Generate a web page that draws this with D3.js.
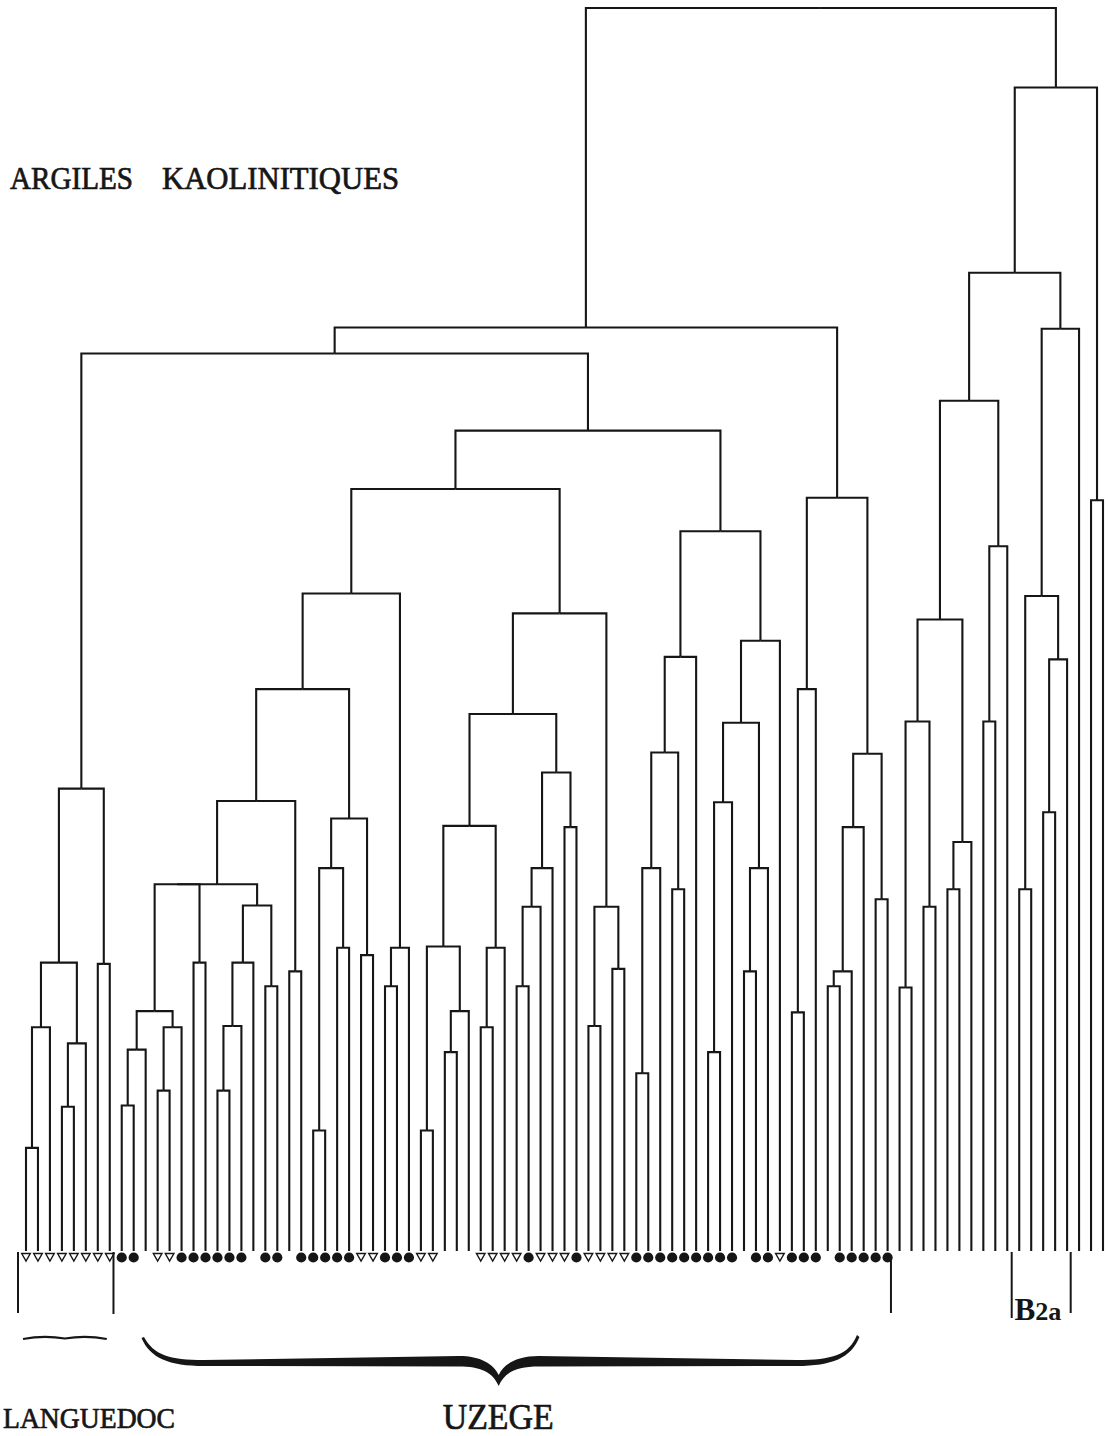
<!DOCTYPE html>
<html>
<head>
<meta charset="utf-8">
<script src="https://cdn.jsdelivr.net/npm/d3@7"></script>
<style>
  html, body { margin: 0; padding: 0; background: #fff; overflow: hidden; }
  svg { display: block; }
</style>
</head>
<body>
<script>
// leaf symbols, left to right: t = open triangle, c = filled dot, - = none
const leafMarkers = (
  "tttttttt" + "cc-tt" + "cccccc-" + "cc-" + "ccccctt" + "ccctt---" +
  "ttttc" + "tttc" + "tttt" + "ccccccccc-" + "cct" + "ccc-" + "ccccc" +
  "------------------"
).split("")

// merges: [id, left child, right child, level]  (numbers = leaves 1..91)
const merges = [
  ["a", 1, 2, 8.3], ["b", "a", 3, 18.0], ["c", 4, 5, 11.6], ["d", "c", 6, 16.7],
  ["e", "b", "d", 23.2], ["f", 7, 8, 23.1], ["g", "e", "f", 37.2],
  ["p1", 9, 10, 11.7], ["p2", "p1", 11, 16.2], ["p3", 12, 13, 12.9], ["p4", "p3", 14, 18.0],
  ["p5", "p2", "p4", 19.3], ["p6", 15, 16, 23.2], ["p7", "p5", "p6", 29.5],
  ["q1", 17, 18, 12.9], ["q2", "q1", 19, 18.1], ["q3", "q2", 20, 23.2], ["q4", 21, 22, 21.3],
  ["q5", "q3", "q4", 27.8], ["p8", "p7", "q5", 29.5],
  ["r1", 23, 24, 22.5], ["r2", "p8", "r1", 36.2],
  ["s1", 25, 26, 9.7], ["s2", 27, 28, 24.4], ["s3", "s1", "s2", 30.8], ["s4", 29, 30, 23.8],
  ["s5", "s3", "s4", 34.8], ["s6", "r2", "s5", 45.2],
  ["t1", 31, 32, 21.3], ["t2", "t1", 33, 24.4], ["t3", "s6", "t2", 52.9],
  ["u1", 34, 35, 9.7], ["u2", 36, 37, 16.0], ["u3", "u2", 38, 19.3], ["u4", "u1", "u3", 24.5],
  ["u5", 39, 40, 18.0], ["u6", "u5", 41, 24.4], ["u7", "u4", "u6", 34.2],
  ["v1", 42, 43, 21.3], ["v2", "v1", 44, 27.7], ["v3", "v2", 45, 30.8], ["v4", 46, 47, 34.1],
  ["v5", "v3", "v4", 38.5], ["v6", "u7", "v5", 43.2],
  ["w1", 48, 49, 18.1], ["w2", 50, 51, 22.7], ["w3", "w1", "w2", 27.7],
  ["w4", "v6", "w3", 51.3], ["w5", "t3", "w4", 61.3],
  ["x1", 52, 53, 14.3], ["x2", "x1", 54, 30.8], ["x3", 55, 56, 29.1], ["x4", "x2", "x3", 40.1],
  ["x5", "x4", 57, 47.8],
  ["y1", 58, 59, 16.0], ["y2", "y1", 60, 36.1], ["y3", 61, 62, 22.5], ["y4", "y3", 63, 30.8],
  ["y5", "y2", "y4", 42.5], ["y6", "y5", 64, 49.1], ["y7", "x5", "y6", 57.9],
  ["y8", "w5", "y7", 66.0], ["h1", "g", "y8", 72.2],
  ["z1", 65, 66, 19.2], ["z2", "z1", 67, 45.2], ["z3", 68, 69, 21.3], ["z4", "z3", 70, 22.5],
  ["z5", "z4", 71, 34.1], ["z6", 72, 73, 28.3], ["z7", "z5", "z6", 40.0], ["z8", "z2", "z7", 60.6],
  ["h2", "h1", "z8", 74.3],
  ["k1", 74, 75, 21.2], ["k2", 76, 77, 27.7], ["k3", "k1", "k2", 42.6], ["k4", 78, 79, 29.1],
  ["k5", "k4", 80, 32.9], ["k6", "k3", "k5", 50.8], ["k7", 81, 82, 42.6], ["k8", "k7", 83, 56.7],
  ["k9", "k6", "k8", 68.4],
  ["m1", 84, 85, 29.1], ["m2", 86, 87, 35.3], ["m3", "m2", 88, 47.6], ["m4", "m1", "m3", 52.7],
  ["m5", "m4", 89, 74.2], ["m6", "k9", "m5", 78.7], ["m7", 90, 91, 60.4], ["m8", "m6", "m7", 93.6],
  ["root", "h2", "m8", 100]
]

// group annotations, positions in leaf units
const brackets = [0.33, 8.31, 73.28, 83.37, 88.3]
const groupLabels = ["LANGUEDOC", "UZEGE", "B2a"]

const w = 1108
const h = 1436
const ink = "#161616"

const svg = d3.select("body").append("svg").attr("width", w).attr("height", h)

const byId = new Map(merges.map((m) => [m[0], m]))
function build(ref) {
  if (typeof ref === "number") return { name: ref, level: 0, mark: leafMarkers[ref - 1] }
  const m = byId.get(ref)
  return { name: m[0], level: m[3], children: [build(m[1]), build(m[2])] }
}
const root = d3.hierarchy(build("root"))

const xScale = d3
  .scalePoint()
  .domain(root.leaves().map((d) => d.data.name))
  .range([26, 1103])
const xIdx = d3.scaleLinear().domain([1, 91]).range([26, 1103])
const yScale = d3.scaleLinear().domain([0, 100]).range([1251, 8])

root.eachAfter((n) => {
  if (n.children) {
    n.x = (n.children[0].x + n.children[n.children.length - 1].x) / 2
  } else {
    n.x = xScale(n.data.name)
  }
  n.y = yScale(n.data.level)
})

svg
  .append("g")
  .selectAll("path")
  .data(root.links())
  .enter()
  .append("path")
  .attr("d", (l) => `M${l.target.x},${l.target.y}V${l.source.y}H${l.source.x}`)
  .attr("fill", "none")
  .attr("stroke", ink)
  .attr("stroke-width", 2.1)

const leaves = root.leaves()
svg
  .append("g")
  .selectAll("circle")
  .data(leaves.filter((d) => d.data.mark === "c"))
  .enter()
  .append("circle")
  .attr("cx", (d) => d.x)
  .attr("cy", 1257.5)
  .attr("r", 5.1)
  .attr("fill", ink)

svg
  .append("g")
  .selectAll("path")
  .data(leaves.filter((d) => d.data.mark === "t"))
  .enter()
  .append("path")
  .attr("d", (d) => `M${d.x - 4.3},1253.5L${d.x + 4.3},1253.5L${d.x},1261Z`)
  .attr("fill", "#fff")
  .attr("stroke", ink)
  .attr("stroke-width", 1.4)

// bracket ticks under the leaves
const tickBottoms = [1313, 1314, 1313, 1318, 1313]
svg
  .append("g")
  .selectAll("line")
  .data(brackets)
  .enter()
  .append("line")
  .attr("x1", (d) => xIdx(d))
  .attr("x2", (d) => xIdx(d))
  .attr("y1", (d, i) => (i === 2 ? 1255 : 1252))
  .attr("y2", (d, i) => tickBottoms[i])
  .attr("stroke", ink)
  .attr("stroke-width", 2)

// wavy mark under the first group
const wx0 = xIdx(0.75)
const wx1 = xIdx(7.75)
svg
  .append("path")
  .attr("d", `M${wx0},1339Q${(wx0 * 3 + wx1) / 4},1335 ${(wx0 + wx1) / 2},1338.5Q${(wx0 + wx1 * 3) / 4},1335 ${wx1},1339`)
  .attr("fill", "none")
  .attr("stroke", ink)
  .attr("stroke-width", 2.2)

// curly brace under the second group
const b0 = xIdx(10.86)
const bm = xIdx(40.5)
const b1 = xIdx(70.44)
const brace =
  `M${b0},1337C${b0 + 10},1355 ${b0 + 25},1360 ${b0 + 60},1360` +
  `L${bm - 40},1356C${bm - 18},1356 ${bm - 5},1364 ${bm},1375` +
  `C${bm + 5},1364 ${bm + 18},1356 ${bm + 40},1356` +
  `L${b1 - 60},1360C${b1 - 25},1360 ${b1 - 8},1355 ${b1},1335` +
  `L${b1 + 2.5},1337C${b1 - 6},1358 ${b1 - 25},1366 ${b1 - 60},1366` +
  `L${bm + 40},1366.5C${bm + 18},1366.5 ${bm + 6},1372 ${bm},1386` +
  `C${bm - 6},1372 ${bm - 18},1366.5 ${bm - 40},1366.5` +
  `L${b0 + 60},1366C${b0 + 25},1366 ${b0 + 6},1358 ${b0 - 2.5},1338Z`
svg.append("path").attr("d", brace).attr("fill", ink)

const serif = "'Liberation Serif', 'DejaVu Serif', serif"

function label(str, x, y, size, len) {
  return svg
    .append("text")
    .text(str)
    .attr("x", x)
    .attr("y", y)
    .attr("font-family", serif)
    .attr("font-size", size)
    .attr("textLength", len)
    .attr("lengthAdjust", "spacingAndGlyphs")
    .style("fill", ink)
    .style("stroke", ink)
    .style("stroke-width", 0.7)
}

label("ARGILES", 10, 189, 31, 123)
label("KAOLINITIQUES", 162, 189, 31, 237)
label(groupLabels[0], 3, 1428, 29, 172)
label(groupLabels[1], xIdx(40.5) - 56, 1429, 35, 111)

const b2a = svg
  .append("text")
  .attr("x", xIdx(83.6))
  .attr("y", 1320)
  .attr("font-family", serif)
  .attr("font-weight", "bold")
  .attr("font-size", 31)
  .attr("textLength", 47)
  .attr("lengthAdjust", "spacingAndGlyphs")
  .style("fill", ink)
b2a.append("tspan").text(groupLabels[2].slice(0, 1))
b2a.append("tspan").attr("font-size", 26).text(groupLabels[2].slice(1))
</script>
</body>
</html>
